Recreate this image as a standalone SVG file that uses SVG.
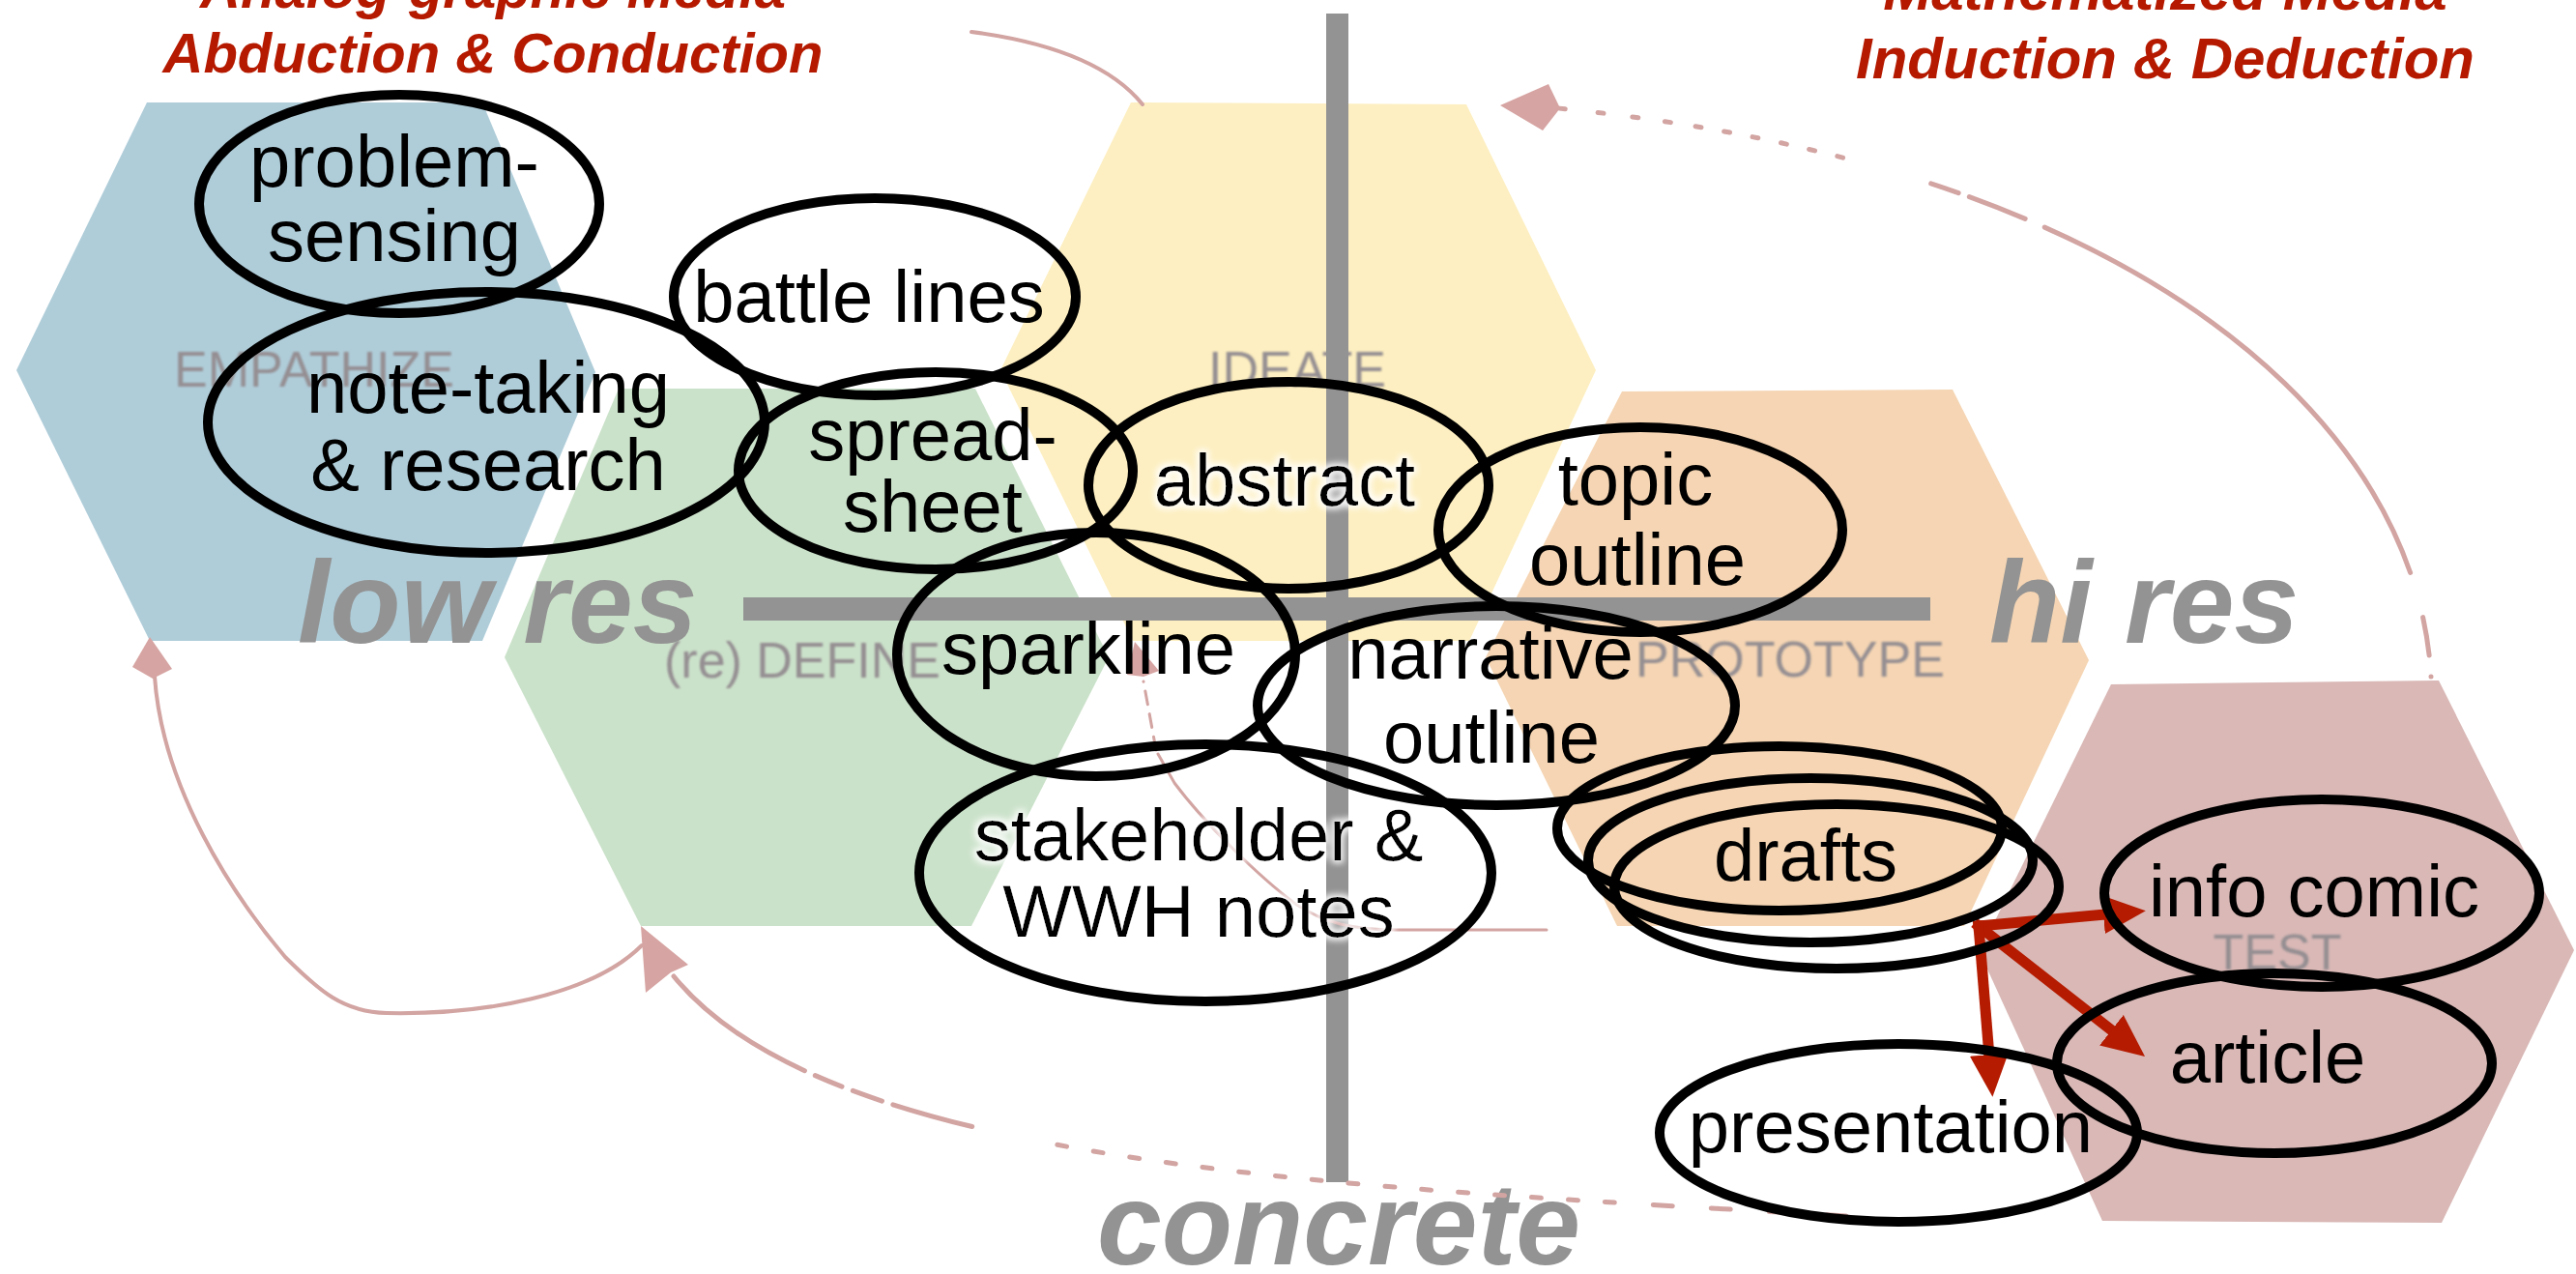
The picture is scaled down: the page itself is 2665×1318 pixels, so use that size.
<svg xmlns="http://www.w3.org/2000/svg" width="2665" height="1318" viewBox="0 0 2665 1318">
<style>
.hl{font-family:"Liberation Sans",Arial,sans-serif;font-size:52px;fill:#948e92;text-anchor:middle}
.node{fill:none;stroke:#000;stroke-width:10}
.lbl{font-family:"Liberation Sans",Arial,sans-serif;font-size:76px;fill:#000;text-anchor:middle}
.axis{fill:#939393}
.axl{font-family:"Liberation Sans",Arial,sans-serif;font-size:120px;font-weight:bold;font-style:italic;fill:#939393}
.title{font-family:"Liberation Sans",Arial,sans-serif;font-weight:bold;font-style:italic;fill:#b51a00;text-anchor:middle}
.faint{fill:none;stroke:#d2a4a2;stroke-linecap:round}
.fainthead{fill:#d6a4a2}
.red{fill:none;stroke:#b51b00;stroke-width:11;stroke-linecap:square;marker-end:url(#ra)}
</style>
<defs>
<filter id="soft" x="-10%" y="-30%" width="120%" height="160%"><feGaussianBlur stdDeviation="1.2"/></filter>
<filter id="glow" x="-10%" y="-40%" width="120%" height="180%">
<feMorphology in="SourceAlpha" operator="dilate" radius="3" result="d"/>
<feGaussianBlur in="d" stdDeviation="3" result="b"/>
<feFlood flood-color="#ffffff" flood-opacity="0.9"/>
<feComposite in2="b" operator="in" result="w"/>
<feMerge><feMergeNode in="w"/><feMergeNode in="SourceGraphic"/></feMerge>
</filter>
<marker id="ra" markerUnits="userSpaceOnUse" markerWidth="48" markerHeight="46" refX="2" refY="23" orient="auto"><path d="M0,3 L44,23 L0,43 z" fill="#b51b00"/></marker>
</defs>

<g id="phases">
<g id="empathize"><polygon points="152,106 499,106 616,385 499,663 155,663 17,383" fill="#afcdd9"/><text class="hl" x="325" y="400" filter="url(#soft)">EMPATHIZE</text></g>
<g id="define"><polygon points="640,402 1009,402 1147,680 1005,958 663,958 522,680" fill="#cbe2ca"/><text class="hl" x="830" y="701" filter="url(#soft)">(re) DEFINE</text></g>
<g id="ideate"><polygon points="1170,106 1517,108 1651,383 1520,663 1172,663 1035,383" fill="#fdefc1"/><text class="hl" x="1342" y="400" filter="url(#soft)">IDEATE</text></g>
<g id="prototype"><polygon points="1678,405 2020,403 2161,683 2032,958 1673,958 1537,680" fill="#f5d5b3"/><text class="hl" x="1852" y="700" filter="url(#soft)">PROTOTYPE</text></g>
<g id="test"><polygon points="2184,708 2523,704 2663,983 2526,1265 2175,1263 2048,985" fill="#d9b8b6"/><text class="hl" x="2356" y="1003" filter="url(#soft)">TEST</text></g>
</g>

<g id="titles">
<text class="title" x="510" y="8" font-size="58">Analog-graphic Media</text>
<text class="title" x="510" y="75" font-size="58">Abduction &amp; Conduction</text>
<text class="title" x="2240" y="10" font-size="60">Mathematized Media</text>
<text class="title" x="2240" y="81" font-size="60">Induction &amp; Deduction</text>
</g>

<g id="axes">
<rect class="axis" x="1372" y="14" width="23" height="1209"/>
<rect class="axis" x="769" y="618" width="1228" height="24"/>
<text class="axl" x="308" y="665">low res</text>
<text class="axl" x="2058" y="665">hi res</text>
<text class="axl" x="1385" y="1308" text-anchor="middle">concrete</text>
</g>

<g id="connectors">
<path class="faint" stroke-width="4" d="M1005,33 Q1135,50 1182,108"/>
<path class="faint" stroke-width="5" d="M2515,700 C2500,430 2200,170 1612,112" stroke-dasharray="0 22 40 48 535 22 62 12 30 95 6 24 6 24 6 24 6 24 6 24 6 26 6 28 6 30 6 34 6 38 6 40 6 44 6 44"/>
<path class="fainthead" d="M1552,109 L1602,87 L1614,112 L1596,135 z"/>
<path class="faint" stroke-width="4" d="M664,978 C612,1030 500,1050 400,1048 C355,1047 330,1025 295,990 C240,925 168,815 160,700"/>
<path class="fainthead" d="M155,659 L178,692 L158,702 L137,690 z"/>
<path class="faint" stroke-width="5" d="M1910,1258 C1400,1228 860,1210 697,1010" stroke-dasharray="20 40 20 40 20 40 20 40 10 28 10 28 10 28 10 28 10 28 10 28 10 28 10 28 10 28 10 28 10 28 10 28 10 28 10 28 10 28 10 90 85 12 32 12 30 12 400"/>
<path class="fainthead" d="M663,958 L712,998 L694,1006 L668,1027 z"/>
<path class="faint" stroke-width="3" d="M1600,962 L1445,962 C1400,962 1370,955 1340,935 C1300,905 1245,850 1215,810 L1198,780"/>
<path class="faint" stroke-width="3" stroke-dasharray="14 10" d="M1196,776 L1183,705"/>
<path class="fainthead" d="M1174,664 L1199,694 L1183,700 L1166,698 z"/>
<path class="red" d="M2047,958 L2178,946"/>
<path class="red" d="M2047,958 L2186,1067"/>
<path class="red" d="M2047,958 L2058,1093"/>
</g>

<g id="n-problem"><ellipse class="node" cx="413" cy="211" rx="207" ry="113"/><text class="lbl" x="408" y="193">problem-</text><text class="lbl" x="408" y="270">sensing</text></g>
<g id="n-note"><ellipse class="node" cx="503" cy="437" rx="288" ry="135"/><text class="lbl" x="505" y="427">note-taking</text><text class="lbl" x="505" y="507">&amp; research</text></g>
<g id="n-battle"><ellipse class="node" cx="905" cy="307" rx="208" ry="102"/><text class="lbl" x="899" y="333">battle lines</text></g>
<g id="n-spread"><ellipse class="node" cx="968" cy="487" rx="204" ry="102"/><text class="lbl" x="965" y="476">spread-</text><text class="lbl" x="965" y="550">sheet</text></g>
<g id="n-abstract"><ellipse class="node" cx="1333" cy="502" rx="207" ry="107"/><text class="lbl" x="1329" y="523" filter="url(#glow)">abstract</text></g>
<g id="n-topic"><ellipse class="node" cx="1697" cy="548" rx="209" ry="106"/><text class="lbl" x="1692" y="522">topic</text><text class="lbl" x="1694" y="605">outline</text></g>
<g id="n-sparkline"><ellipse class="node" cx="1134" cy="677" rx="206" ry="126"/><text class="lbl" x="1126" y="697">sparkline</text></g>
<g id="n-narrative"><ellipse class="node" cx="1548" cy="730" rx="247" ry="103"/><text class="lbl" x="1542" y="702">narrative</text><text class="lbl" x="1543" y="789">outline</text></g>
<g id="n-stakeholder"><ellipse class="node" cx="1247" cy="903" rx="296" ry="133"/><text class="lbl" x="1240" y="890" filter="url(#glow)">stakeholder &amp;</text><text class="lbl" x="1240" y="969" filter="url(#glow)">WWH notes</text></g>
<g id="n-drafts"><ellipse class="node" cx="1841" cy="857" rx="230" ry="85"/><ellipse class="node" cx="1873" cy="890" rx="230" ry="85"/><ellipse class="node" cx="1900" cy="917" rx="230" ry="85"/><text class="lbl" x="1868" y="911">drafts</text></g>
<g id="n-infocomic"><ellipse class="node" cx="2402" cy="924" rx="225" ry="97"/><text class="lbl" x="2394" y="948">info comic</text></g>
<g id="n-article"><ellipse class="node" cx="2353" cy="1100" rx="225" ry="93"/><text class="lbl" x="2346" y="1120">article</text></g>
<g id="n-presentation"><ellipse class="node" cx="1964" cy="1172" rx="247" ry="92"/><text class="lbl" x="1956" y="1192">presentation</text></g>
</svg>
